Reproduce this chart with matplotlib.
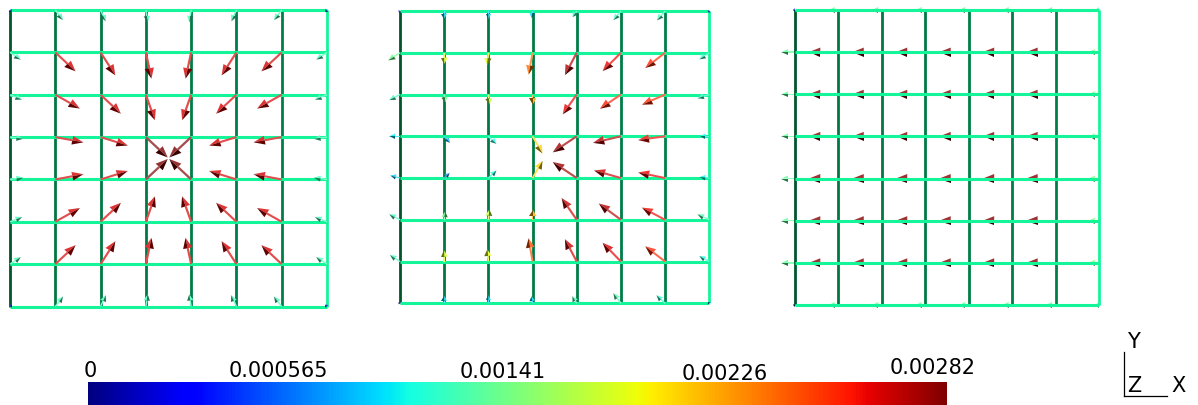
import numpy as np
import matplotlib
matplotlib.use("Agg")
import matplotlib.pyplot as plt
from matplotlib.colors import Normalize, to_rgb
from matplotlib.cm import ScalarMappable
from matplotlib.lines import Line2D
from matplotlib.patches import Polygon

# vector components in units of 1e-3, rows listed from the top of the mesh down,
# columns from left to right (8 x 8 nodes, 7 x 7 cells); w is the out-of-plane part
u1 = [[0.18, 0.70, 0.47, 0.17, -0.17, -0.47, -0.70, -0.18],
      [0.98, 1.84, 1.34, 0.51, -0.51, -1.34, -1.84, -0.98],
      [1.10, 2.23, 1.84, 0.82, -0.82, -1.84, -2.23, -1.10],
      [1.19, 2.55, 2.47, 1.98, -1.98, -2.47, -2.55, -1.19],
      [1.19, 2.55, 2.47, 1.98, -1.98, -2.47, -2.55, -1.19],
      [1.10, 2.23, 1.84, 0.82, -0.82, -1.84, -2.23, -1.10],
      [0.98, 1.84, 1.34, 0.51, -0.51, -1.34, -1.84, -0.98],
      [0.18, 0.70, 0.47, 0.17, -0.17, -0.47, -0.70, -0.18]]
v1 = [[-0.18, -0.98, -1.10, -1.19, -1.19, -1.10, -0.98, -0.18],
      [-0.70, -1.84, -2.23, -2.55, -2.55, -2.23, -1.84, -0.70],
      [-0.47, -1.34, -1.84, -2.47, -2.47, -1.84, -1.34, -0.47],
      [-0.17, -0.51, -0.82, -1.98, -1.98, -0.82, -0.51, -0.17],
      [0.17, 0.51, 0.82, 1.98, 1.98, 0.82, 0.51, 0.17],
      [0.47, 1.34, 1.84, 2.47, 2.47, 1.84, 1.34, 0.47],
      [0.70, 1.84, 2.23, 2.55, 2.55, 2.23, 1.84, 0.70],
      [0.18, 0.98, 1.10, 1.19, 1.19, 1.10, 0.98, 0.18]]
w1 = [[0, 0, 0, 0, 0, 0, 0, 0],
      [0, 0, 0, 0, 0, 0, 0, 0],
      [0, 0, 0, 0, 0, 0, 0, 0],
      [0, 0, 0, 0.8, 0.8, 0, 0, 0],
      [0, 0, 0, 0.8, 0.8, 0, 0, 0],
      [0, 0, 0, 0, 0, 0, 0, 0],
      [0, 0, 0, 0, 0, 0, 0, 0],
      [0, 0, 0, 0, 0, 0, 0, 0]]

u2 = [[-0.12, 0.0, 0.0, -0.1, -0.4, -0.7, -0.77, -0.12],
      [-1.1, 0.0, -0.1, -0.37, -1.1, -1.7, -1.85, -0.93],
      [-1.0, 0.1, 0.1, 0.0, -1.3, -1.95, -2.15, -1.1],
      [-1.0, 0.55, 0.75, 0.93, -2.23, -2.6, -2.5, -0.9],
      [-0.9, 0.5, 0.75, 0.93, -2.23, -2.5, -2.5, -0.9],
      [-1.0, 0.1, 0.1, 0.0, -1.4, -2.05, -2.15, -1.1],
      [-0.93, 0.0, -0.1, -0.37, -1.1, -1.7, -1.85, -0.93],
      [-0.12, 0.0, 0.0, -0.1, -0.4, -0.7, -0.8, -0.12]]
v2 = [[-0.12, -0.75, -0.8, -0.7, -0.6, -0.9, -0.93, -0.12],
      [-0.75, -1.1, -1.2, -2.14, -2.2, -1.8, -1.5, -0.65],
      [-0.55, -0.8, -1.0, -1.0, -1.95, -1.4, -1.0, -0.37],
      [0.0, -0.65, -0.75, -1.7, -1.58, -0.65, -0.37, 0.0],
      [0.25, 0.5, 0.75, 1.7, 1.58, 0.75, 0.55, 0.1],
      [0.55, 0.8, 1.0, 1.0, 2.14, 1.6, 1.2, 0.55],
      [0.65, 1.1, 1.2, 2.3, 2.2, 1.85, 1.5, 0.55],
      [0.12, 0.75, 0.8, 0.7, 0.7, 1.0, 0.8, 0.12]]
w2 = [[0, 0.6, 0.5, 0.6, 0.9, 0.2, 0, 0],
      [0.3, 1.35, 1.3, 0.5, 1.1, 0.6, 0.6, 0],
      [0.3, 1.1, 1.3, 1.8, 1.0, 0.6, 0.6, 0],
      [0, 0, 0, 0, 0, 0, 0, 0.5],
      [0, 0, 0, 0, 0, 0, 0, 0.5],
      [0.3, 1.1, 1.3, 1.8, 0.6, 0.6, 0.6, 0],
      [0.3, 1.35, 1.3, 0.0, 0.9, 0.6, 0.6, 0],
      [0, 0.6, 0.5, 0.6, 0.9, 0.2, 0, 0]]

u3 = [[-0.2, -0.9, -0.9, -0.9, -0.9, -0.9, -0.9, -0.4],
      [-1.3, -2.8, -2.8, -2.8, -2.8, -2.8, -2.8, -1.0],
      [-1.3, -2.8, -2.8, -2.8, -2.8, -2.8, -2.8, -1.0],
      [-1.3, -2.8, -2.8, -2.8, -2.8, -2.8, -2.8, -1.0],
      [-1.3, -2.8, -2.8, -2.8, -2.8, -2.8, -2.8, -1.0],
      [-1.3, -2.8, -2.8, -2.8, -2.8, -2.8, -2.8, -1.0],
      [-1.3, -2.8, -2.8, -2.8, -2.8, -2.8, -2.8, -1.0],
      [-0.2, -0.9, -0.9, -0.9, -0.9, -0.9, -0.9, -0.4]]
v3 = [[0, 0, 0, 0, 0, 0, 0, 0],
      [0, 0, 0, 0, 0, 0, 0, 0],
      [0, 0, 0, 0, 0, 0, 0, 0],
      [0, 0, 0, 0, 0, 0, 0, 0],
      [0, 0, 0, 0, 0, 0, 0, 0],
      [0, 0, 0, 0, 0, 0, 0, 0],
      [0, 0, 0, 0, 0, 0, 0, 0],
      [0, 0, 0, 0, 0, 0, 0, 0]]
w3 = [[0, 1.0, 1.0, 1.0, 1.0, 1.0, 1.0, 1.2],
      [0, 0, 0, 0, 0, 0, 0, 1.0],
      [0, 0, 0, 0, 0, 0, 0, 1.0],
      [0, 0, 0, 0, 0, 0, 0, 1.0],
      [0, 0, 0, 0, 0, 0, 0, 1.0],
      [0, 0, 0, 0, 0, 0, 0, 1.0],
      [0, 0, 0, 0, 0, 0, 0, 1.0],
      [0, 1.0, 1.0, 1.0, 1.0, 1.0, 1.0, 1.2]]

vmax = 2.82  # 0.00282
tick_labels = ['0', '0.000565', '0.00141', '0.00226', '0.00282']

W, H = 1198, 405
fig = plt.figure(figsize=(W / 100, H / 100), dpi=100)
fig.patch.set_facecolor('white')

# pixel boxes of the three meshes: left, top, right, bottom
boxes = [(10, 10, 327, 306.5), (400, 11, 709.3, 303.3), (795, 10, 1099.3, 305)]
panels = [(u1, v1, w1), (u2, v2, w2), (u3, v3, w3)]

hcol = '#14f59a'
vcols = ['#00552b', '#00773f', '#007841', '#007a43', '#007c45', '#007c46', '#007e47', hcol]

norm = Normalize(0, vmax)
cmap = plt.get_cmap('jet')
scale = 4.1  # value per cell


def glyph(ax, x, y, dx, dy, full, col, z):
    # 3d-looking arrow: pale shaft, head split into lit and shaded halves.
    # head length follows the projected length, thickness the full magnitude
    L = np.hypot(dx, dy)
    if L < 1e-6:
        return
    d = np.array([dx, dy]) / L
    n = np.array([-d[1], d[0]])
    if n[1] > 0 or (n[1] == 0 and n[0] > 0):
        n = -n  # n points to the shaded (lower) side
    hl = min(0.06 + 0.3 * L + 0.08 * (full - L), 0.9 * L)
    hw = 0.08 + 0.2 * full
    sw = 0.02 + 0.045 * full
    tail = np.array([x, y])
    tip = tail + d * L
    bc = tip - d * hl
    c = np.array(to_rgb(col))
    pale = c + (1 - c) * 0.3
    lit = c + (1 - c) * 0.2
    dark = c * 0.45
    ax.add_patch(Polygon([tail + n * sw / 2, bc + n * sw / 2, bc - n * sw / 2, tail - n * sw / 2],
                         closed=True, fc=pale, ec='none', zorder=z, clip_on=False))
    ax.add_patch(Polygon([tip, bc - n * hw / 2, bc], closed=True, fc=lit,
                         ec='none', zorder=z, clip_on=False))
    ax.add_patch(Polygon([tip, bc, bc + n * hw / 2], closed=True, fc=dark,
                         ec='none', zorder=z, clip_on=False))


for i, ((l, t, r, b), (u, v, w)) in enumerate(zip(boxes, panels)):
    ax = fig.add_axes([l / W, 1 - b / H, (r - l) / W, (b - t) / H])
    ax.set_xlim(0, 7)
    ax.set_ylim(0, 7)
    ax.axis('off')
    u = np.array(u, dtype=float)
    v = np.array(v, dtype=float)
    mag = np.sqrt(u ** 2 + v ** 2 + np.array(w, dtype=float) ** 2)
    line_z = 4 if i == 2 else 1
    for k in range(8):
        ax.plot([k, k], [0, 7], color=vcols[k], lw=2.0, clip_on=False, zorder=line_z - 0.5,
                solid_capstyle='butt')
    for k in range(8):
        ax.plot([0, 7], [k, k], color=hcol, lw=2.2, clip_on=False, zorder=line_z,
                solid_capstyle='butt')
    for row in range(8):
        for colm in range(8):
            glyph(ax, colm, 7 - row, u[row, colm] / scale, v[row, colm] / scale,
                  mag[row, colm] / scale, cmap(norm(mag[row, colm])), 3)

# colour bar
cax = fig.add_axes([87.5 / W, 0.0, (947 - 87.5) / W, 23 / H])
cb = fig.colorbar(ScalarMappable(norm=norm, cmap=cmap), cax=cax, orientation='horizontal')
cb.set_ticks([])
cb.outline.set_visible(False)

label_x = [90, 278, 503, 725, 933]
label_base = [377, 377, 378, 380, 374]
for txt, x, y in zip(tick_labels, label_x, label_base):
    fig.text(x / W, 1 - y / H, txt, ha='center', va='baseline', fontsize=15,
             family='DejaVu Sans', color='black')

# orientation triad
fig.add_artist(Line2D([1123.5 / W, 1123.5 / W], [1 - 352 / H, 1 - 396 / H], color='black', lw=0.9))
fig.add_artist(Line2D([1123.5 / W, 1166.5 / W], [1 - 396 / H, 1 - 396 / H], color='black', lw=0.9))
fig.text(1133 / W, 1 - 348 / H, 'Y', ha='center', va='baseline', fontsize=15, family='DejaVu Sans')
fig.text(1134 / W, 1 - 392 / H, 'Z', ha='center', va='baseline', fontsize=15, family='DejaVu Sans')
fig.text(1178.5 / W, 1 - 392 / H, 'X', ha='center', va='baseline', fontsize=15, family='DejaVu Sans')

fig.savefig('out.png', dpi=100, facecolor='white')
